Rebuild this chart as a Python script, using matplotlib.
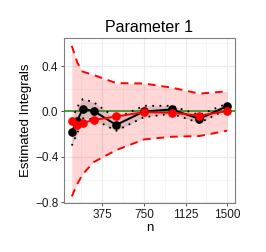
import matplotlib
matplotlib.use("Agg")
import matplotlib.pyplot as plt
from matplotlib.ticker import FixedLocator

n = [100, 150, 200, 300, 500, 750, 1000, 1250, 1500]

black_mean = [-0.18, -0.08, 0.024, 0.003, -0.118, 0.0, 0.018, -0.065, 0.047]
black_upper = [-0.07, 0.04, 0.11, 0.08, -0.06, 0.05, 0.05, -0.03, 0.07]
black_lower = [-0.30, -0.19, -0.06, -0.07, -0.17, -0.05, -0.02, -0.10, 0.02]

red_mean = [-0.086, -0.118, -0.10, -0.074, -0.044, -0.006, -0.012, -0.036, 0.003]
red_upper = [0.578, 0.43, 0.35, 0.32, 0.25, 0.246, 0.21, 0.157, 0.178]
red_lower = [-0.747, -0.637, -0.55, -0.444, -0.34, -0.246, -0.222, -0.216, -0.169]

true_value = 0.0

x_major = [375, 750, 1125, 1500]
x_minor = [187.5, 562.5, 937.5, 1312.5]
y_major = [-0.8, -0.4, 0.0, 0.4]
y_minor = [-0.6, -0.2, 0.2, 0.6]

plt.rcParams['font.family'] = ['Liberation Sans', 'DejaVu Sans']

fig = plt.figure(figsize=(2.66, 2.52), dpi=100)
ax = fig.add_axes([0.2406, 0.194, 0.6424, 0.655])

ax.set_xlim(30, 1570)
ax.set_ylim(-0.806, 0.646)

# grid
for v in x_minor:
    ax.axvline(v, color='#F2F2F2', lw=0.5, zorder=0)
for v in y_minor:
    ax.axhline(v, color='#F2F2F2', lw=0.5, zorder=0)
for v in x_major:
    ax.axvline(v, color='#EBEBEB', lw=0.8, zorder=0)
for v in y_major:
    ax.axhline(v, color='#EBEBEB', lw=0.8, zorder=0)

ax.fill_between(n, red_lower, red_upper, color='#FF0000', alpha=0.16, lw=0, zorder=1)
ax.fill_between(n, black_lower, black_upper, color='#000000', alpha=0.13, lw=0, zorder=2)
ax.axhline(true_value, color='#2E8B22', lw=1.2, zorder=3)

ax.plot(n, black_upper, color='black', ls=(0, (1, 3)), lw=1.3, zorder=4)
ax.plot(n, black_lower, color='black', ls=(0, (1, 3)), lw=1.3, zorder=4)
ax.plot(n, black_mean, color='black', lw=1.4, marker='o', ms=5.2, zorder=5)
ax.plot(n, red_mean, color='#FF0000', lw=1.4, marker='o', ms=5.2, zorder=6)
ax.plot(n, red_upper, color='#FF0000', lw=1.4, ls=(0, (4, 3)), zorder=7)
ax.plot(n, red_lower, color='#FF0000', lw=1.4, ls=(0, (4, 3)), zorder=7)

ax.set_xticks(x_major)
ax.set_xticklabels(['375', '750', '1125', '1500'])
ax.set_yticks(y_major)
ax.set_yticklabels(['\u22120.8', '\u22120.4', '0.0', '0.4'])
ax.tick_params(axis='both', labelsize=8.5, color='#333333', length=2.5, width=0.6,
               labelcolor='#1A1A1A', pad=1.5)

for s in ax.spines.values():
    s.set_color('#7F7F7F')
    s.set_linewidth(0.8)

ax.set_title('Parameter 1', fontsize=11.5, pad=4)
ax.set_xlabel('n', fontsize=9.5, labelpad=1)
ax.set_ylabel('Estimated Integrals', fontsize=9.5, labelpad=2)

fig.savefig('out.png', dpi=100)
